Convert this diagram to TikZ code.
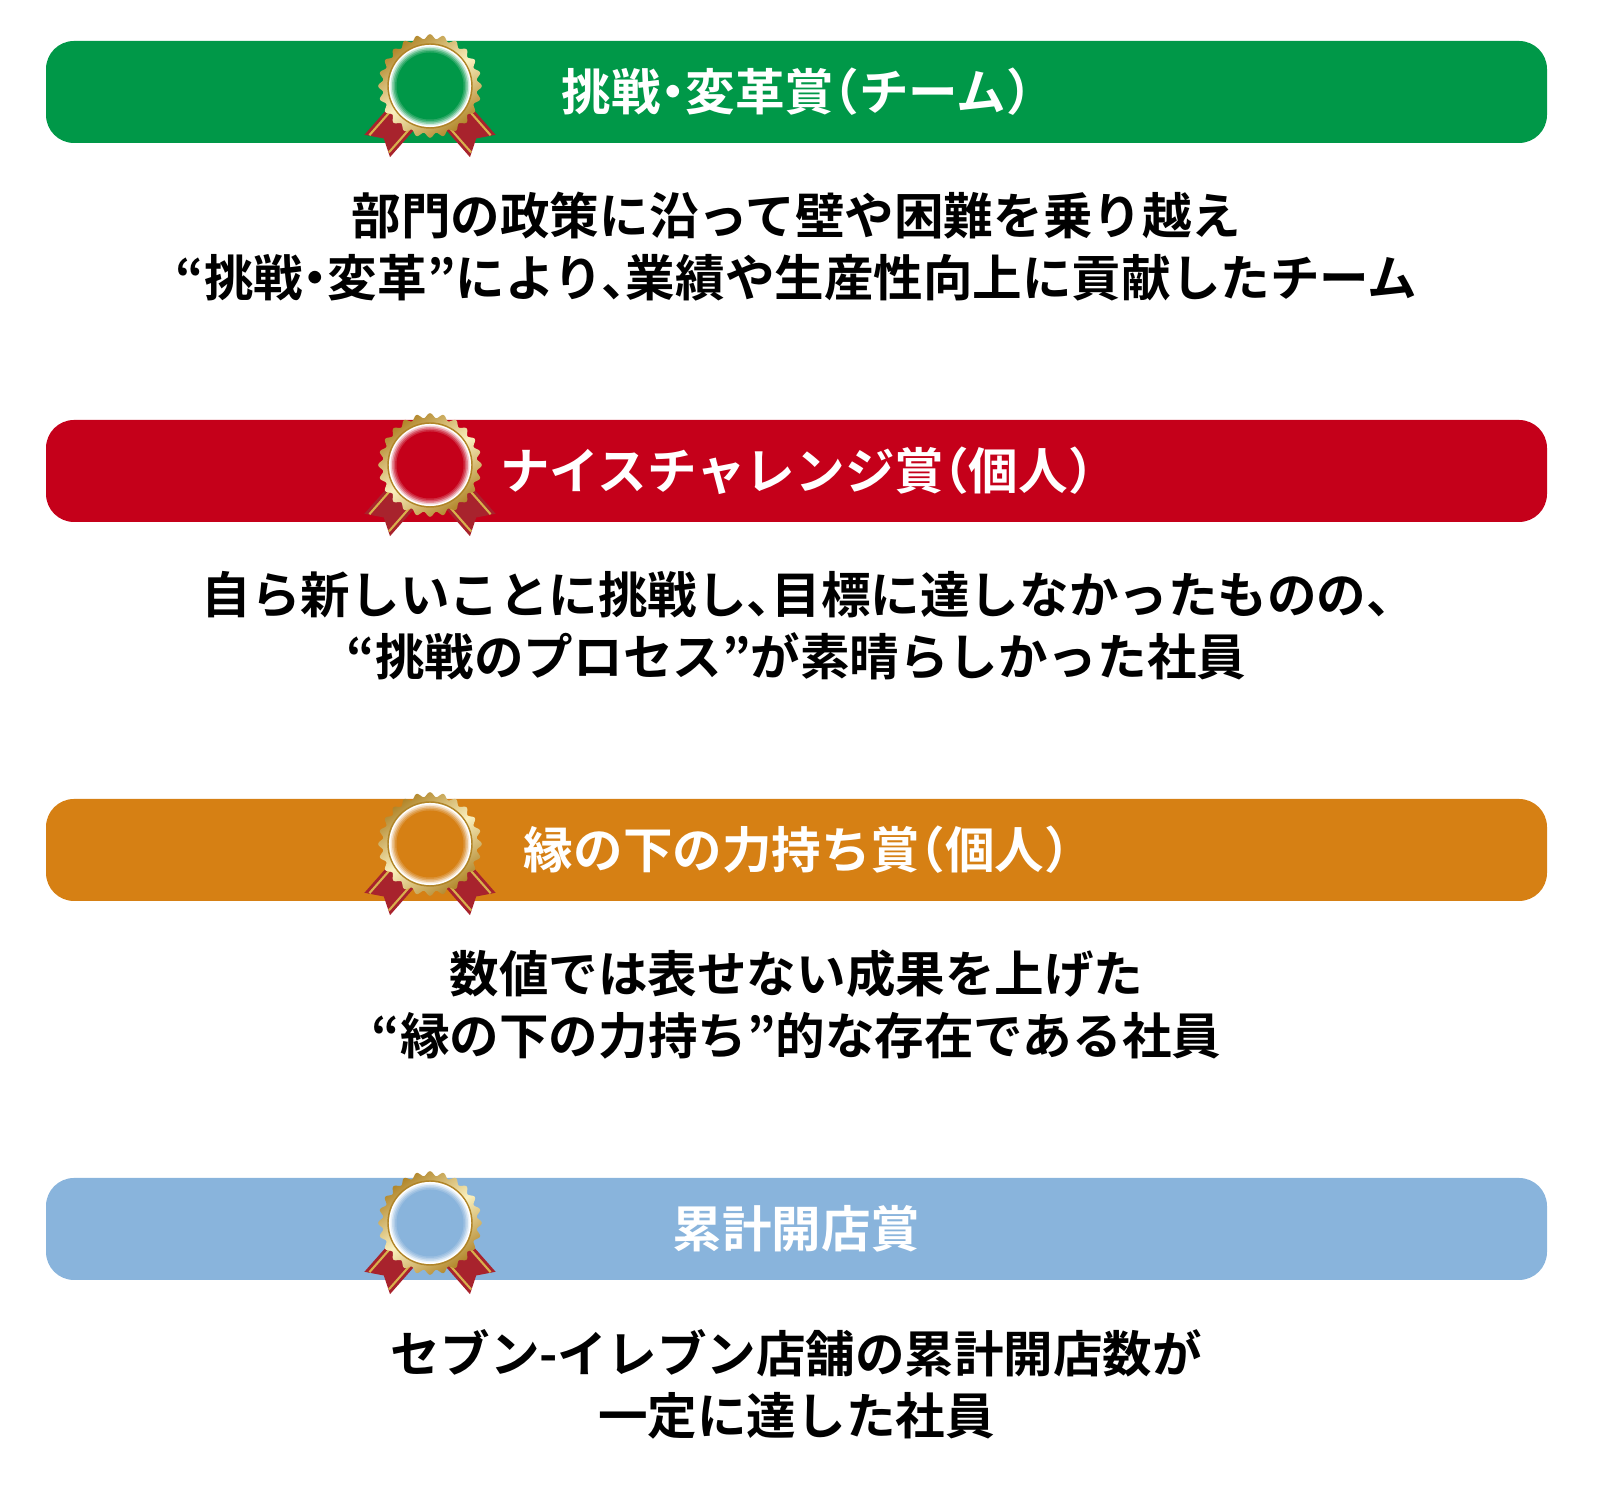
\documentclass[tikz,border=0pt]{standalone}
\usepackage{fontspec}
\newfontfamily\jp{Noto Sans CJK JP}[UprightFont=* Bold, RawFeature=+halt]
\usetikzlibrary{positioning}

\definecolor{awardgreen}{HTML}{009848}
\definecolor{awardred}{HTML}{C5001A}
\definecolor{awardorange}{HTML}{D68014}
\definecolor{awardblue}{HTML}{89B4DC}
\definecolor{ribbonred}{HTML}{A8232D}
\definecolor{goldlight}{HTML}{FAF0BE}
\definecolor{goldmid}{HTML}{D8B04C}
\definecolor{golddark}{HTML}{B08428}

\tikzset{
  bar/.style={rounded corners=2.8mm, minimum width=150.1mm, minimum height=10.2mm,
    inner sep=0pt, text=white, font=\jp\fontsize{14.1pt}{17pt}\selectfont},
  desc/.style={align=center, inner sep=0pt, font=\jp\fontsize{14.1pt}{17.6pt}\selectfont},
  pics/medal/.style={code={
    % ribbons
    \fill[ribbonred] (-12.8,-11.2) -- (-65.6,48.8) -- (-46.2,52.5) -- (-40,71.2) -- (12.8,11.2) -- cycle;
    \fill[ribbonred] (12.8,-11.2) -- (65.6,48.8) -- (46.2,52.5) -- (40,71.2) -- (-12.8,11.2) -- cycle;
    \draw[goldmid, line width=0.6pt] (-9.75,-8.6) -- (-60.6,49.2) (9.75,8.6) -- (-41.1,66.4);
    \draw[goldmid, line width=0.6pt] (9.75,-8.6) -- (60.6,49.2) (-9.75,8.6) -- (41.1,66.4);
    % gold rim
    \shade[left color=golddark, right color=golddark, middle color=goldlight, shading angle=35]
      plot[domain=0:360, samples=289, variable=\t] (\t:{49.5+2.3*cos(24*\t)}) -- cycle;
    \draw[golddark, line width=0.4pt] (0,0) circle (42);
    \fill[white] (0,0) circle (41);
    % glow
    \foreach \r/\o in {39.5/0.2, 38/0.3, 36.5/0.4, 35/0.5, 33.5/1}
      \fill[#1, opacity=\o] (0,0) circle (\r);
  }}
}

\begin{document}
\begin{tikzpicture}[x=0.1mm, y=-0.1mm, node distance=15.5mm]
  \useasboundingbox (0,0) rectangle (1600,1495);
  \node(bar1)[bar, fill=awardgreen] at (796.5,92) {挑戦・変革賞（チーム）};
  \node(desc1)[desc, below of=bar1] {部門の政策に沿って壁や困難を乗り越え\\“挑戦・変革”により、業績や生産性向上に貢献したチーム};
  \node(bar2)[bar, fill=awardred, below of=desc1, node distance=22.4mm] {ナイスチャレンジ賞（個人）};
  \node(desc2)[desc, below of=bar2] {自ら新しいことに挑戦し、目標に達しなかったものの、\\“挑戦のプロセス”が素晴らしかった社員};
  \node(bar3)[bar, fill=awardorange, below of=desc2, node distance=22.4mm] {縁の下の力持ち賞（個人）};
  \node(desc3)[desc, below of=bar3] {数値では表せない成果を上げた\\“縁の下の力持ち”的な存在である社員};
  \node(bar4)[bar, fill=awardblue, below of=desc3, node distance=22.4mm] {累計開店賞};
  \node(desc4)[desc, below of=bar4] {セブン-イレブン店舗の累計開店数が\\一定に達した社員};
  \pic at ([xshift=-36.65mm, yshift=0.6mm]bar1.center) {medal=awardgreen};
  \pic at ([xshift=-36.65mm, yshift=0.6mm]bar2.center) {medal=awardred};
  \pic at ([xshift=-36.65mm, yshift=0.6mm]bar3.center) {medal=awardorange};
  \pic at ([xshift=-36.65mm, yshift=0.6mm]bar4.center) {medal=awardblue};
\end{tikzpicture}
\end{document}
